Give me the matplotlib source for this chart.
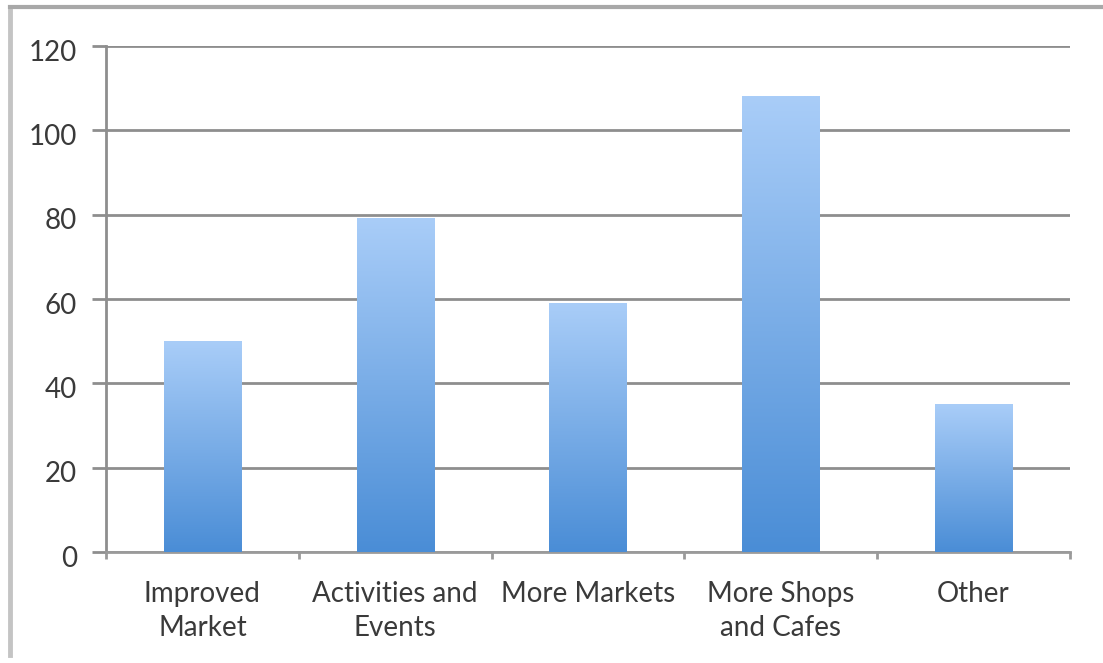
import numpy as np
import matplotlib.pyplot as plt
from matplotlib.colors import LinearSegmentedColormap
from matplotlib.lines import Line2D
from matplotlib.transforms import ScaledTranslation

categories = ["Improved\nMarket", "Activities and\nEvents", "More Markets",
              "More Shops\nand Cafes", "Other"]
values = [50, 79, 59, 108, 35]
y_ticks = [0, 20, 40, 60, 80, 100, 120]

plt.rcParams['font.family'] = ['Lato', 'DejaVu Sans']

fig = plt.figure(figsize=(11.03, 6.63), dpi=100)
ax = fig.add_axes([0.0961, 0.1674, 0.874, 0.7632])

x = np.arange(len(categories))
bars = ax.bar(x, values, width=0.4, color='none', zorder=3)

# vertical blue gradient, light at the top and darker at the base
grad = LinearSegmentedColormap.from_list('bar', ['#4a8dd6', '#a9cdf8'])
g = np.linspace(0, 1, 256).reshape(-1, 1)
for b in bars:
    x0, w, h = b.get_x(), b.get_width(), b.get_height()
    ax.imshow(g, cmap=grad, origin='lower', aspect='auto',
              extent=[x0, x0 + w, 0, h], zorder=3, interpolation='bilinear')

ax.set_xlim(-0.5, len(categories) - 0.5)
ax.set_ylim(0, 120)
ax.set_yticks(y_ticks)
ax.yaxis.grid(True, color='#8e8e8e', linewidth=2)
ax.set_axisbelow(True)

ax.set_xticks(x)
ax.set_xticklabels(categories, linespacing=1.35)
ax.set_xticks(np.arange(len(categories) + 1) - 0.5, minor=True)
ax.tick_params(axis='x', which='major', length=0, pad=21,
               labelsize=20, labelcolor='#3a3a3a')
ax.tick_params(axis='x', which='minor', length=5, width=2,
               color='#9a9a9a', direction='out')
ax.tick_params(axis='y', length=10, width=2, color='#8e8e8e', pad=11,
               labelsize=20, labelcolor='#3a3a3a')

# y labels sit a little below their gridlines
shift = ScaledTranslation(0, -4 / 100, fig.dpi_scale_trans)
for lab in ax.get_yticklabels():
    lab.set_transform(lab.get_transform() + shift)

for side in ['top', 'right']:
    ax.spines[side].set_visible(False)
ax.spines['left'].set_color('#8e8e8e')
ax.spines['left'].set_linewidth(2)
ax.spines['bottom'].set_color('#9a9a9a')
ax.spines['bottom'].set_linewidth(2)

# light frame along the left and top edges
fig.add_artist(Line2D([0.0095, 0.0095], [0.012, 0.9895], transform=fig.transFigure,
                      color='#c4c4c4', linewidth=3.5))
fig.add_artist(Line2D([0.0095, 1.0], [0.9895, 0.9895], transform=fig.transFigure,
                      color='#a8a8a8', linewidth=3))

fig.savefig('out.png', dpi=100)
